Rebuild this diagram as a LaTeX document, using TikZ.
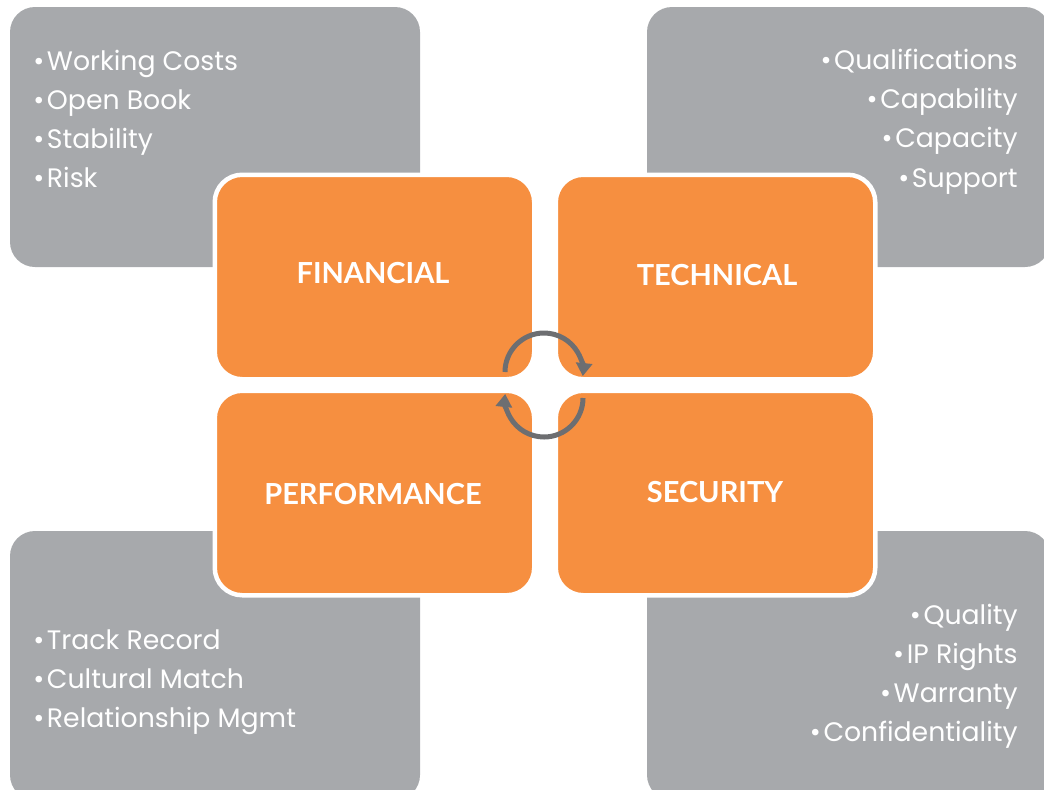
\documentclass[tikz,border=0pt]{standalone}
\usepackage{fontspec}
\setmainfont{Lato}
\newfontfamily\listfont{Poppins}
\usetikzlibrary{arrows.meta}
\definecolor{slate}{HTML}{A7A9AC}
\definecolor{amber}{HTML}{F68F40}
\definecolor{graphite}{HTML}{6D6E71}

\tikzset{
  greybox/.style={fill=slate,rounded corners=5mm},
  orangebox/.style={fill=amber,draw=white,line width=0.9mm,rounded corners=5.5mm,
    minimum width=319.5*0.2mm,minimum height=204.5*0.2mm},
  heading/.style={text=white,font=\fontsize{16.5}{20}\selectfont\bfseries},
  item/.style={text=white,inner sep=0pt,font=\listfont\fontsize{15.2}{20}\selectfont},
  turn/.style={graphite,line width=1mm,-{Triangle[length=2.6mm,width=3.2mm]}}
}

\begin{document}
\begin{tikzpicture}[x=0.2mm,y=-0.2mm]
  \useasboundingbox (0,0) rectangle (1044,789);
  \clip (0,0) rectangle (1044,789);

  % grey corner panels
  \path[greybox] (10,7) rectangle (420,267);
  \path[greybox] (647,7) rectangle (1050,267);
  \path[greybox] (10,531) rectangle (420,800);
  \path[greybox] (647,531) rectangle (1050,800);

  \foreach \txt [count=\i] in {Working Costs,Open Book,Stability,Risk}
    \node[item,anchor=base west] (fin-\i) at (33,{31+39*\i}) {•\hspace{1.5pt}\txt};
  \foreach \txt [count=\i] in {Qualifications,Capability,Capacity,Support}
    \node[item,anchor=base east] (tech-\i) at (1018,{30+39.3*\i}) {•\hspace{1.5pt}\txt};
  \foreach \txt [count=\i] in {Track Record,Cultural Match,Relationship Mgmt}
    \node[item,anchor=base west] (perf-\i) at (33,{610+39*\i}) {•\hspace{1.5pt}\txt};
  \foreach \txt [count=\i] in {Quality,IP Rights,Warranty,Confidentiality}
    \node[item,anchor=base east] (sec-\i) at (1018,{585+39*\i}) {•\hspace{1.5pt}\txt};

  % orange quadrants
  \node[orangebox] (fin) at (374.5,277) {};
  \node[orangebox] (tech) at (715.5,277) {};
  \node[orangebox] (perf) at (374.5,493) {};
  \node[orangebox] (sec) at (715.5,493) {};
  \node[heading] (fin-lbl) at (373,273) {FINANCIAL};
  \node[heading] (tech-lbl) at (717,275) {TECHNICAL};
  \node[heading] (perf-lbl) at (373,494) {PERFORMANCE};
  \node[heading] (sec-lbl) at (715,492) {SECURITY};

  % cycle arrows
  \draw[turn] (505,372) arc[start angle=180,end angle=-6,radius=7.8mm];
  \draw[turn] (583,398) arc[start angle=0,end angle=-186,radius=7.8mm];
\end{tikzpicture}
\end{document}
